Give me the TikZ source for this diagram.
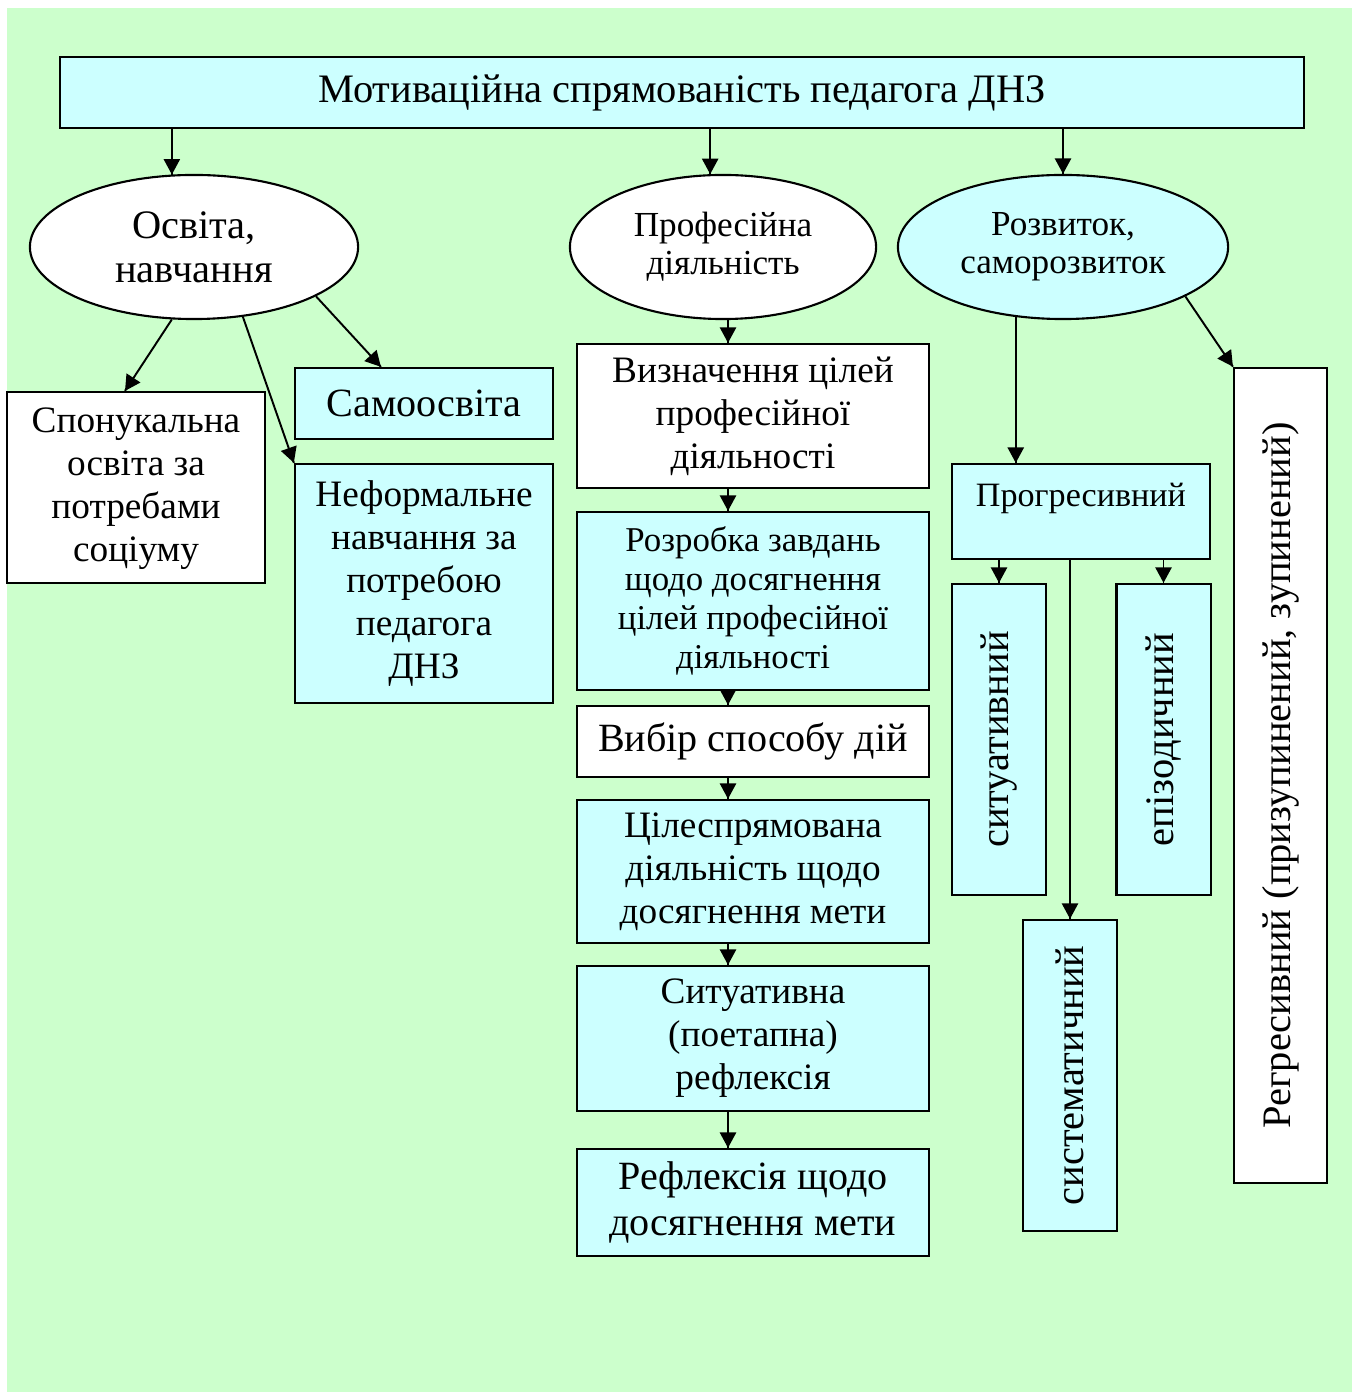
\documentclass[tikz,border=0pt]{standalone}
\usepackage{fontspec}
\setmainfont{Liberation Serif}
\usetikzlibrary{shapes.geometric,arrows.meta,decorations.markings}
\definecolor{lightcyan}{HTML}{CCFFFF}
\definecolor{palegreen}{HTML}{CCFFCC}
\tikzstyle{basic} = [rectangle, draw=black, line width=0.6pt, fill=white, align=center, inner sep=0pt, font=\fontsize{10.6}{12.2}\selectfont]
\tikzstyle{cyanbox} = [basic, fill=lightcyan]
\tikzstyle{oval} = [ellipse, draw=black, line width=0.6pt, fill=white, align=center, inner sep=0pt, minimum height=1.44cm]
\tikzstyle{vertbox} = [cyanbox, rotate=90, minimum width=3.11cm, minimum height=0.94cm, font=\fontsize{11.5}{12.2}\selectfont]

\begin{document}
\begin{tikzpicture}[x=0.01cm, y=-0.01cm]
        \tikzset{myptr/.style={line width=0.55pt, decoration={markings,mark=at position 1 with %
    {\arrow{Triangle[length=4.4pt,width=4.6pt]}}},postaction={decorate}}}
        \useasboundingbox (0,0) rectangle (1357,1392);
        \fill [palegreen] (7,8) rectangle (1352,1392);

        \node (title) [cyanbox, minimum width=12.44cm, minimum height=0.71cm, font=\fontsize{11.5}{12}\selectfont] at (682,92.5) {Мотиваційна спрямованість педагога ДНЗ};

        \node (osvita) [oval, minimum width=3.28cm, font=\fontsize{11.5}{12.6}\selectfont] at (194,247) {Освіта,\\навчання};
        \node (prof) [oval, minimum width=3.06cm, font=\fontsize{10}{10.8}\selectfont] at (723,247) {Професійна\\діяльність};
        \node (rozvytok) [oval, minimum width=3.30cm, fill=lightcyan, font=\fontsize{10}{10.8}\selectfont] at (1063,247) {Розвиток,\\саморозвиток};

        % left branch
        \node (spon) [basic, minimum width=2.58cm, minimum height=1.91cm, text depth=0.06cm] at (136,487.5) {Спонукальна\\освіта за\\потребами\\соціуму};
        \node (samoosv) [cyanbox, minimum width=2.58cm, minimum height=0.71cm, font=\fontsize{11.4}{12.6}\selectfont] at (424,403.5) {Самоосвіта};
        \node (neform) [cyanbox, minimum width=2.58cm, minimum height=2.39cm] at (424,583.5) {Неформальне\\навчання за\\потребою\\педагога\\ДНЗ};

        % middle column
        \node (vyzn) [basic, minimum width=3.52cm, minimum height=1.44cm] at (753,416) {Визначення цілей\\професійної\\діяльності};
        \node (rozrob) [cyanbox, minimum width=3.52cm, minimum height=1.78cm, font=\fontsize{9.9}{11.1}\selectfont] at (753,601) {Розробка завдань\\щодо досягнення\\цілей професійної\\діяльності};
        \node (vybir) [basic, minimum width=3.52cm, minimum height=0.71cm, font=\fontsize{11.4}{12.6}\selectfont] at (753,741.5) {Вибір способу дій};
        \node (tsil) [cyanbox, minimum width=3.52cm, minimum height=1.43cm] at (753,871.5) {Цілеспрямована\\діяльність щодо\\досягнення мети};
        \node (sytuat) [cyanbox, minimum width=3.52cm, minimum height=1.45cm] at (753,1038.5) {Ситуативна\\(поетапна)\\рефлексія};
        \node (refl) [cyanbox, minimum width=3.52cm, minimum height=1.07cm, font=\fontsize{11.4}{13}\selectfont] at (753,1202.5) {Рефлексія щодо\\досягнення мети};

        % right branch
        \node (progr) [cyanbox, minimum width=2.58cm, inner ysep=0pt, text height=0.43cm, text depth=0.52cm, font=\fontsize{9.7}{11}\selectfont] at (1081,511.5) {Прогресивний};
        \node (sytuatyv) [vertbox] at (999,739.5) {ситуативний};
        \node (epizod) [vertbox] at (1163.5,739.5) {епізодичний};
        \node (system) [vertbox] at (1070,1075.5) {систематичний};
        \node (regres) [basic, rotate=90, minimum width=8.15cm, minimum height=0.93cm, font=\fontsize{11.5}{12.2}\selectfont] at (1280.5,775.5) {Регресивний (призупинений,\ зупинений)};

        \coordinate (colx) at (728,0);

        \draw [myptr] (title.south -| osvita.107) -- (osvita.107);
        \draw [myptr] (title.south -| prof.100) -- (prof.100);
        \draw [myptr] (title.south -| rozvytok.north) -- (rozvytok.north);

        \draw [myptr] (osvita.253) -- ([xshift=-0.11cm]spon.north);
        \draw [myptr] (osvita.-55) -- (neform.north west);
        \draw [myptr] (osvita.-22) -- ([xshift=-0.43cm]samoosv.north);

        \draw [myptr] (prof.south -| colx) -- (vyzn.north -| colx);
        \foreach \a/\b in {vyzn/rozrob, rozrob/vybir, vybir/tsil, tsil/sytuat, sytuat/refl}
            \draw [myptr] (\a.south -| colx) -- (\b.north -| colx);

        \draw [myptr] (rozvytok.236) -- (rozvytok.236 |- progr.north);
        \draw [myptr] (rozvytok.-22) -- (regres.north east);
        \foreach \b in {sytuatyv, epizod, system}
            \draw [myptr] (progr.south -| \b.east) -- (\b.east);
\end{tikzpicture}
\end{document}
